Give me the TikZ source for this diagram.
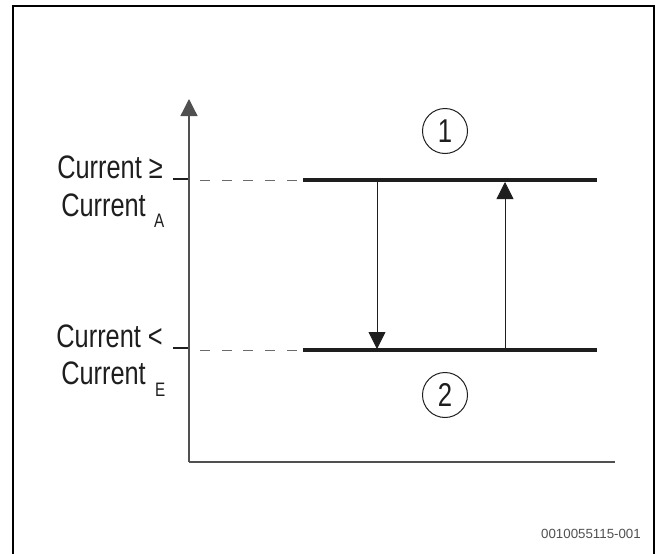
\documentclass[tikz,border=0pt]{standalone}
\usepackage{fontspec}
\setmainfont{Liberation Sans}[FakeStretch=0.78]
\newfontfamily\idfont{Liberation Sans}
\usetikzlibrary{arrows.meta}
\definecolor{ink}{HTML}{1E1E1E}
\definecolor{axisgray}{HTML}{505050}
\definecolor{dashgray}{HTML}{6A6A6A}
\tikzset{
  frameline/.style={line width=2.4pt,black},
  axisline/.style={line width=1.3pt,axisgray},
  levelline/.style={line width=3.2pt,ink},
  tickline/.style={line width=1.2pt,ink},
  dashline/.style={line width=1pt,dashgray,dash pattern=on 10pt off 11.7pt},
  flowarrow/.style={line width=0.8pt,ink,-{Triangle[width=17pt,length=17pt]}},
  lbl/.style={font=\fontsize{32.5}{34}\selectfont,inner sep=0pt,text=ink},
  sub/.style={font=\fontsize{19.5}{20}\selectfont,inner sep=0pt,text=ink},
  numcircle/.style={circle,draw=ink,line width=1pt,minimum size=45pt,inner sep=0pt,font=\fontsize{33}{34}\selectfont,text=ink},
}
\begin{document}
\begin{tikzpicture}[x=1pt,y=-1pt]
\useasboundingbox (0,0) rectangle (656,554);
% frame
\draw[frameline] (13,570) -- (13,6) -- (654,6) -- (654,570);
% axes
\coordinate (O) at (189,462);
\coordinate (Ytop) at (189,99);
\coordinate (Xend) at (615,462);
\draw[axisline,-{Triangle[width=17pt,length=17pt]}] (O) -- (Ytop);
\draw[axisline] (O) -- (Xend);
% levels
\coordinate (U1) at (303,180);
\coordinate (U2) at (597,180);
\coordinate (L1) at (303,350);
\coordinate (L2) at (597,350);
\draw[levelline] (U1) -- (U2);
\draw[levelline] (L1) -- (L2);
% ticks and dashes
\coordinate (tu1) at (173,179);
\coordinate (tu2) at (188,179);
\coordinate (tl1) at (173,348);
\coordinate (tl2) at (188,348);
\draw[tickline] (tu1) -- (tu2);
\draw[tickline] (tl1) -- (tl2);
\coordinate (du1) at (200,180);
\coordinate (du2) at (301,180);
\coordinate (dl1) at (200,350);
\coordinate (dl2) at (301,350);
\draw[dashline] (du1) -- (du2);
\draw[dashline] (dl1) -- (dl2);
% transitions
\coordinate (a1) at (377,182);
\coordinate (a2) at (377,349);
\coordinate (b1) at (505,348);
\coordinate (b2) at (505,182);
\draw[flowarrow] (a1) -- (a2);
\draw[flowarrow] (b1) -- (b2);
% state circles
\node[numcircle] (s1) at (445,131) {1};
\node[numcircle] (s2) at (445,395) {2};
% labels
\node[lbl,anchor=base east] (t1) at (163,178) {Current ≥};
\node[lbl,anchor=base east] (t2) at (146,216) {Current};
\node[sub,anchor=north west] (t2s) at (154,214) {A};
\node[lbl,anchor=base east] (t3) at (163,347) {Current <};
\node[lbl,anchor=base east] (t4) at (146,384) {Current};
\node[sub,anchor=north west] (t4s) at (155,383) {E};
% id
\node[font=\idfont\fontsize{13.3}{14}\selectfont,text=axisgray,anchor=base east,inner sep=0pt] (id) at (641,538) {0010055115-001};
\end{tikzpicture}
\end{document}
